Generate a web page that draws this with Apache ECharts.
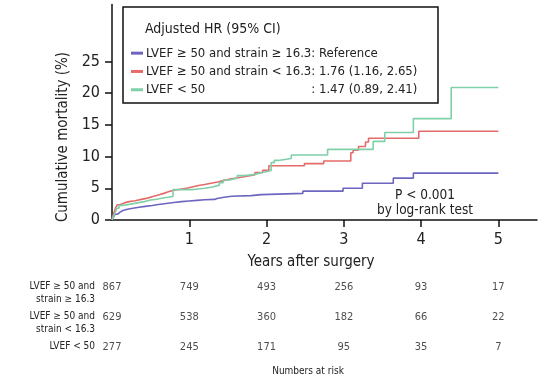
<!DOCTYPE html>
<html><head><meta charset="utf-8">
<script src="https://cdn.jsdelivr.net/npm/echarts@6/dist/echarts.min.js"></script>
<style>html,body{margin:0;padding:0;background:#fff}#c{width:549px;height:381px}</style>
</head><body><div id="c"></div>
<script>
const FONT = '"Liberation Sans Narrow", "DejaVu Sans Condensed", sans-serif';

// Group names and hazard ratios
const groupNames = ['LVEF \u2265 50 and strain \u2265 16.3', 'LVEF \u2265 50 and strain < 16.3', 'LVEF < 50'];
const hrTexts = ['Reference', '1.76 (1.16, 2.65)', '1.47 (0.89, 2.41)'];
const groupColors = ['#6d65c0', '#e46b6a', '#7fd0a9'];

// Kaplan-Meier cumulative mortality (%) step data
const refTime = [0,0.02,0.04,0.07,0.1,0.14,0.2,0.27,0.35,0.43,0.52,0.6,0.7,0.8,0.9,1.0,1.1,1.2,1.33,1.36,1.45,1.55,1.8,1.93,2.47,2.99,3.24,3.64,3.9,5.0];
const refVal  = [0,0.5,0.9,1.2,1.5,1.7,1.85,2.0,2.15,2.3,2.45,2.6,2.75,2.9,3.0,3.1,3.2,3.25,3.4,3.6,3.75,3.85,4.0,4.2,4.55,5.0,5.8,6.6,7.4,7.4];

const lowTime = [0,0.01,0.03,0.05,0.07,0.1,0.16,0.22,0.3,0.38,0.46,0.53,0.6,0.67,0.73,0.8,0.9,0.98,1.05,1.12,1.2,1.28,1.37,1.45,1.55,1.65,1.75,1.85,1.95,2.03,2.49,2.74,3.09,3.12,3.19,3.28,3.32,3.97,5.0];
const lowVal  = [0,0.6,1.3,2.0,2.4,2.7,2.9,3.05,3.25,3.45,3.7,3.95,4.2,4.45,4.7,4.9,5.05,5.25,5.45,5.6,5.8,6.0,6.25,6.5,6.7,6.9,7.15,7.5,7.85,8.55,8.9,9.3,10.6,11.0,11.6,12.3,12.9,14.0,14.0];

const efTime = [0,0.02,0.04,0.06,0.09,0.14,0.24,0.33,0.42,0.5,0.59,0.68,0.79,1.05,1.2,1.3,1.39,1.44,1.52,1.62,1.72,1.85,1.95,2.06,2.1,2.15,2.32,2.79,3.38,3.53,3.9,4.39,5.0];
const efVal  = [0,0.6,1.1,1.85,2.3,2.5,2.7,2.9,3.15,3.3,3.5,3.7,4.8,5.0,5.2,5.5,5.9,6.3,6.6,7.0,7.2,7.5,7.8,9.05,9.4,9.7,10.25,11.15,12.4,13.8,16.0,20.9,20.9];

// Axis ticks
const xTicks = [1, 2, 3, 4, 5];
const yTicks = [0, 5, 10, 15, 20, 25];

// Numbers at risk
const riskTimes = [0, 1, 2, 3, 4, 5];
const riskLabels = ['LVEF \u2265 50 and\nstrain \u2265 16.3', 'LVEF \u2265 50 and\nstrain < 16.3', 'LVEF < 50'];
const riskRef = [867, 749, 493, 256, 93, 17];
const riskLow = [629, 538, 360, 182, 66, 22];
const riskEf  = [277, 245, 171, 95, 35, 7];

const zip = (t, v) => t.map((x, i) => [x, v[i]]);

const LEG_FS = 13;
const cv = document.createElement('canvas').getContext('2d');
cv.font = LEG_FS + 'px ' + FONT;
const padW = cv.measureText(groupNames[1]).width;

const riskData = [];
[riskRef, riskLow, riskEf].forEach((row, r) => row.forEach((n, i) => riskData.push([riskTimes[i], r, n])));

const chart = echarts.init(document.getElementById('c'), null, {renderer: 'canvas'});
chart.setOption({
  animation: false,
  color: groupColors,
  textStyle: {fontFamily: FONT},
  grid: [
    {left: 112, right: 12, top: 4.5, bottom: 161, containLabel: false},
    {left: 112, right: 12, top: 271.7, height: 90, containLabel: false}
  ],
  xAxis: [
    {gridIndex: 0, type: 'value', min: 0, max: 5.5, interval: 1,
     axisLine: {lineStyle: {color: '#111', width: 1.5}},
     axisTick: {length: 7, lineStyle: {color: '#111', width: 1.5}, customValues: xTicks},
     axisLabel: {customValues: xTicks, fontSize: 16, color: '#222', margin: 12, fontFamily: FONT},
     splitLine: {show: false}},
    {gridIndex: 1, type: 'value', min: 0, max: 5.5, show: false}
  ],
  yAxis: [
    {gridIndex: 0, type: 'value', min: 0, max: 34, interval: 5,
     axisLine: {show: true, lineStyle: {color: '#111', width: 1.5}},
     axisTick: {show: true, length: 7, lineStyle: {color: '#111', width: 1.5}, customValues: yTicks},
     axisLabel: {customValues: yTicks, fontSize: 16, color: '#222', margin: 12, fontFamily: FONT},
     splitLine: {show: false}},
    {gridIndex: 1, type: 'category', data: riskLabels.map(s => s.indexOf('\n') >= 0 ? '\n' + s : s), inverse: true,
     axisLine: {show: false}, axisTick: {show: false},
     axisLabel: {interval: 0, fontSize: 10, lineHeight: 13, color: '#222', margin: 17, align: 'right', fontFamily: FONT}}
  ],
  title: {text: 'Adjusted HR (95% CI)', left: 140, top: 17,
          textStyle: {fontSize: 14, fontWeight: 'normal', color: '#222', fontFamily: FONT}},
  legend: {
    orient: 'vertical', left: 126, top: 40, itemWidth: 12, itemHeight: 3, itemGap: 2, icon: 'rect',
    data: groupNames,
    textStyle: {fontSize: LEG_FS, lineHeight: 16.3, color: '#222', fontFamily: FONT, padding: [0,0,0,-2],
      rich: {a: {width: padW, fontSize: LEG_FS, fontFamily: FONT, color: '#222'},
             b: {fontSize: LEG_FS, fontFamily: FONT, color: '#222'}}},
    formatter: name => {
      const i = groupNames.indexOf(name);
      if (i === 2) return '{a|' + name + '}{b|: ' + hrTexts[i] + '}';
      return name + ': ' + hrTexts[i];
    }
  },
  graphic: [
    {type: 'rect', shape: {x: 123, y: 7, width: 315, height: 96}, style: {fill: 'none', stroke: '#111', lineWidth: 1.5}, z: 10},
    {type: 'text', x: 63, y: 137, rotation: Math.PI / 2,
     style: {text: 'Cumulative mortality (%)', font: '15px ' + FONT, fill: '#222', textAlign: 'center', textVerticalAlign: 'middle'}},
    {type: 'text', x: 311, y: 262,
     style: {text: 'Years after surgery', font: '15px ' + FONT, fill: '#222', textAlign: 'center', textVerticalAlign: 'middle'}},
    {type: 'text', x: 425, y: 195,
     style: {text: 'P < 0.001', font: '13.5px ' + FONT, fill: '#222', textAlign: 'center', textVerticalAlign: 'middle'}},
    {type: 'text', x: 425, y: 210,
     style: {text: 'by log-rank test', font: '13.5px ' + FONT, fill: '#222', textAlign: 'center', textVerticalAlign: 'middle'}},
    {type: 'text', x: 308, y: 371.5,
     style: {text: 'Numbers at risk', font: '10px ' + FONT, fill: '#222', textAlign: 'center', textVerticalAlign: 'middle'}}
  ],
  series: [
    {name: groupNames[0], type: 'line', step: 'end', showSymbol: false, data: zip(refTime, refVal), lineStyle: {width: 1.6}, xAxisIndex: 0, yAxisIndex: 0},
    {name: groupNames[1], type: 'line', step: 'end', showSymbol: false, data: zip(lowTime, lowVal), lineStyle: {width: 1.6}, xAxisIndex: 0, yAxisIndex: 0},
    {name: groupNames[2], type: 'line', step: 'end', showSymbol: false, data: zip(efTime, efVal), lineStyle: {width: 1.6}, xAxisIndex: 0, yAxisIndex: 0},
    {name: 'risk', type: 'scatter', xAxisIndex: 1, yAxisIndex: 1, symbolSize: 0, data: riskData,
     label: {show: true, position: 'inside', formatter: p => String(p.value[2]), fontSize: 11, color: '#222', fontFamily: FONT},
     silent: true}
  ]
});
</script>
</body></html>
